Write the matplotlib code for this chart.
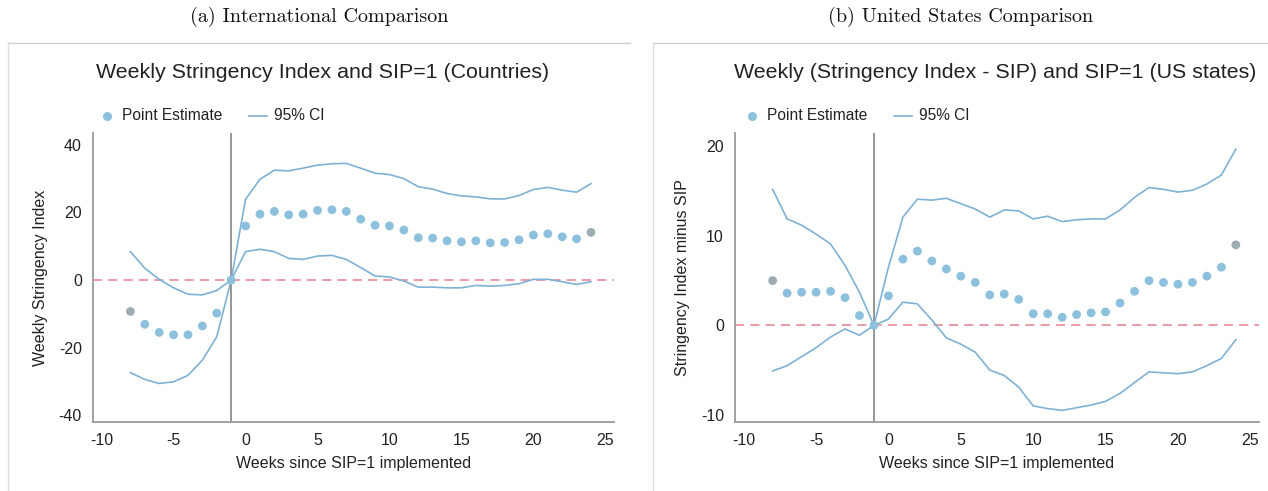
import matplotlib
matplotlib.use("Agg")
from matplotlib import pyplot as plt
from matplotlib.lines import Line2D
import numpy as np

# weeks relative to SIP=1 (week -1 is the reference week)
weeks = list(range(-8, 25))

# (a) countries
intl_est = [-9.3, -13.1, -15.5, -16.2, -16.2, -13.6, -9.8, 0.0,
            16.0, 19.5, 20.3, 19.3, 19.5, 20.6, 20.8, 20.3, 18.0, 16.2, 16.0,
            14.8, 12.5, 12.4, 11.6, 11.3, 11.6, 11.0, 11.1, 11.9, 13.3, 13.7, 12.8, 12.2, 14.1]
intl_hi = [8.4, 3.5, 0.2, -2.3, -4.2, -4.4, -3.1, 0.0,
           23.9, 29.8, 32.5, 32.3, 33.1, 34.0, 34.4, 34.5, 33.1, 31.6, 31.2,
           30.0, 27.6, 26.9, 25.6, 24.9, 24.6, 24.0, 24.0, 25.0, 26.8, 27.4, 26.6, 26.0, 28.5]
intl_lo = [-27.4, -29.4, -30.6, -30.1, -28.2, -23.7, -16.8, 0.0,
           8.4, 9.1, 8.4, 6.4, 6.1, 7.1, 7.3, 6.1, 3.7, 1.2, 0.9,
           -0.3, -2.1, -2.1, -2.3, -2.3, -1.6, -1.8, -1.6, -1.1, 0.2, 0.2, -0.5, -1.3, -0.5]

# (b) US states
us_est = [5.0, 3.6, 3.7, 3.7, 3.8, 3.1, 1.1, 0.0,
          3.3, 7.4, 8.3, 7.2, 6.3, 5.5, 4.8, 3.4, 3.5, 2.9, 1.3,
          1.3, 0.9, 1.2, 1.4, 1.5, 2.5, 3.8, 5.0, 4.8, 4.6, 4.8, 5.5, 6.5, 9.0]
us_hi = [15.2, 11.9, 11.2, 10.2, 9.1, 6.7, 3.7, 0.0,
         6.5, 12.1, 14.1, 14.0, 14.2, 13.6, 13.0, 12.1, 12.9, 12.8, 11.9,
         12.2, 11.6, 11.8, 11.9, 11.9, 12.9, 14.3, 15.4, 15.2, 14.9, 15.1, 15.8, 16.8, 19.7]
us_lo = [-5.1, -4.5, -3.5, -2.5, -1.3, -0.4, -1.1, 0.0,
         0.7, 2.6, 2.4, 0.6, -1.4, -2.1, -3.0, -5.0, -5.6, -6.9, -9.0,
         -9.3, -9.5, -9.2, -8.9, -8.5, -7.6, -6.4, -5.2, -5.3, -5.4, -5.2, -4.5, -3.7, -1.6]

captions = ["(a) International Comparison", "(b) United States Comparison"]
titles = ["Weekly Stringency Index and SIP=1 (Countries)",
          "Weekly (Stringency Index - SIP) and SIP=1 (US states)"]
ylabels = ["Weekly Stringency Index", "Stringency Index minus SIP"]
xticks = [-10, -5, 0, 5, 10, 15, 20, 25]
yticks_list = [[-40, -20, 0, 20, 40], [-10, 0, 10, 20]]
ylims = [(-42, 43.5), (-10.8, 21.5)]

DOT = "#8cc0dc"
DOT_END = "#9cadb3"
CI = "#7fb1d5"
ZERO = "#e8808d"
GREY = "#8e8e8e"

plt.rcParams["font.family"] = ["Liberation Sans", "DejaVu Sans"]

W, H = 1268, 491
fig = plt.figure(figsize=(W / 100, H / 100), dpi=100)


def px(x0, y0, x1, y1):
    # pixel box (top-left origin) -> figure fraction rect
    return [x0 / W, 1 - y1 / H, (x1 - x0) / W, (y1 - y0) / H]


boxes = [px(93, 133, 614, 422), px(735, 133, 1259, 422)]
panel_left = [8, 653]
panel_right = [630, 1268]
title_x = [323, 995]
series = [(intl_est, intl_hi, intl_lo), (us_est, us_hi, us_lo)]

for i in range(2):
    est, hi, lo = series[i]
    ax = fig.add_axes(boxes[i])
    ax.set_xlim(-10.6, 25.6)
    ax.set_ylim(*ylims[i])
    ax.axhline(0, color=ZERO, lw=1.1, dashes=(6, 4), zorder=1)
    ax.axvline(-1, color=GREY, lw=1.3, zorder=1)
    ax.plot(weeks, hi, color=CI, lw=1.2, zorder=2)
    ax.plot(weeks, lo, color=CI, lw=1.2, zorder=2)
    cols = [DOT] * len(weeks)
    cols[0] = DOT_END
    cols[-1] = DOT_END
    ax.scatter(weeks, est, s=40, c=cols, edgecolors="none", zorder=3)

    for s in ["top", "right"]:
        ax.spines[s].set_visible(False)
    for s in ["left", "bottom"]:
        ax.spines[s].set_color("#9a9a9a")
        ax.spines[s].set_linewidth(1.3)
    ax.set_xticks(xticks)
    ax.set_xticklabels([str(t) for t in xticks])
    ax.set_yticks(yticks_list[i])
    ax.set_yticklabels([str(t) for t in yticks_list[i]])
    ax.tick_params(length=0, labelsize=11.5, colors="#222222", pad=8)
    ax.set_xlabel("Weeks since SIP=1 implemented", fontsize=11.5, color="#222222", labelpad=6)
    ax.set_ylabel(ylabels[i], fontsize=11.5, color="#222222", labelpad=8)

    mid = (panel_left[i] + panel_right[i]) / 2 / W
    fig.text(mid, 1 - 17 / H, captions[i], family="cmr10", fontsize=14.5,
             ha="center", va="center", color="#111111")
    fig.text(title_x[i] / W, 1 - 73 / H, titles[i],
             fontsize=15.4, ha="center", va="center", color="#222222")

    # legend drawn by hand above the plot
    lx = (panel_left[i] + 99) / W
    ly = 1 - 116 / H
    fig.add_artist(Line2D([lx], [ly], marker="o", markersize=6.5, color=DOT,
                          markeredgewidth=0, transform=fig.transFigure))
    fig.text(lx + 15 / W, ly, "Point Estimate", fontsize=11.2, va="center", color="#222222")
    fig.add_artist(Line2D([lx + 142 / W, lx + 160 / W], [ly, ly], color=CI, lw=1.2,
                          transform=fig.transFigure))
    fig.text(lx + 167 / W, ly, "95% CI", fontsize=11.2, va="center", color="#222222")

    # light frame of the screenshot panels
    fig.add_artist(Line2D([panel_left[i] / W, panel_right[i] / W], [1 - 43 / H, 1 - 43 / H],
                          color="#cfcfcf", lw=1, transform=fig.transFigure))
    fig.add_artist(Line2D([panel_left[i] / W, panel_left[i] / W], [0, 1 - 43 / H],
                          color="#dddddd", lw=1, transform=fig.transFigure))

fig.savefig("out.png", dpi=100)
